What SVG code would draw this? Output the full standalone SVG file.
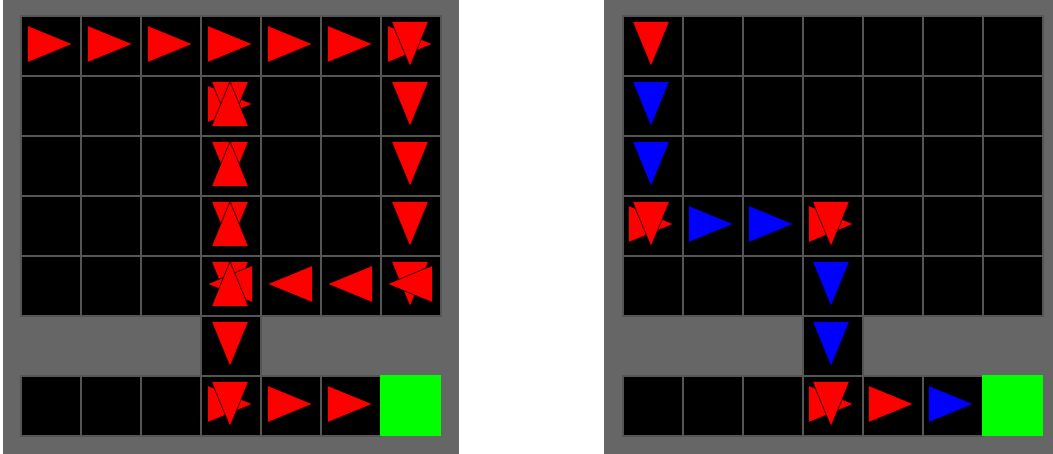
<svg xmlns="http://www.w3.org/2000/svg" xmlns:xlink="http://www.w3.org/1999/xlink" width="1053" height="454" viewBox="0 0 1053 454">
<style>
.panel{fill:#666666}
.cell{fill:#000000;stroke:#555555;stroke-width:2}
.goal{fill:#00ff00}
.red{fill:#ff0000;stroke:#000000;stroke-width:0.8}
.blue{fill:#0000ff;stroke:#000000;stroke-width:0.8}
</style>
<defs>
<polygon id="tri" points="-22.5,-18.5 22.5,0 -22.5,18.5"/>
</defs>
<rect x="0" y="0" width="1053" height="454" fill="#ffffff"/>
<g id="left-panel">
<rect class="panel" x="3" y="0" width="456" height="454"/>
<g id="left-cells">
<rect class="cell" x="21" y="16" width="60" height="60"/><rect class="cell" x="81" y="16" width="60" height="60"/><rect class="cell" x="141" y="16" width="60" height="60"/><rect class="cell" x="201" y="16" width="60" height="60"/><rect class="cell" x="261" y="16" width="60" height="60"/><rect class="cell" x="321" y="16" width="60" height="60"/><rect class="cell" x="381" y="16" width="60" height="60"/>
<rect class="cell" x="21" y="76" width="60" height="60"/><rect class="cell" x="81" y="76" width="60" height="60"/><rect class="cell" x="141" y="76" width="60" height="60"/><rect class="cell" x="201" y="76" width="60" height="60"/><rect class="cell" x="261" y="76" width="60" height="60"/><rect class="cell" x="321" y="76" width="60" height="60"/><rect class="cell" x="381" y="76" width="60" height="60"/>
<rect class="cell" x="21" y="136" width="60" height="60"/><rect class="cell" x="81" y="136" width="60" height="60"/><rect class="cell" x="141" y="136" width="60" height="60"/><rect class="cell" x="201" y="136" width="60" height="60"/><rect class="cell" x="261" y="136" width="60" height="60"/><rect class="cell" x="321" y="136" width="60" height="60"/><rect class="cell" x="381" y="136" width="60" height="60"/>
<rect class="cell" x="21" y="196" width="60" height="60"/><rect class="cell" x="81" y="196" width="60" height="60"/><rect class="cell" x="141" y="196" width="60" height="60"/><rect class="cell" x="201" y="196" width="60" height="60"/><rect class="cell" x="261" y="196" width="60" height="60"/><rect class="cell" x="321" y="196" width="60" height="60"/><rect class="cell" x="381" y="196" width="60" height="60"/>
<rect class="cell" x="21" y="256" width="60" height="60"/><rect class="cell" x="81" y="256" width="60" height="60"/><rect class="cell" x="141" y="256" width="60" height="60"/><rect class="cell" x="201" y="256" width="60" height="60"/><rect class="cell" x="261" y="256" width="60" height="60"/><rect class="cell" x="321" y="256" width="60" height="60"/><rect class="cell" x="381" y="256" width="60" height="60"/>
<rect class="cell" x="201" y="316" width="60" height="60"/>
<rect class="cell" x="21" y="376" width="60" height="60"/><rect class="cell" x="81" y="376" width="60" height="60"/><rect class="cell" x="141" y="376" width="60" height="60"/><rect class="cell" x="201" y="376" width="60" height="60"/><rect class="cell" x="261" y="376" width="60" height="60"/><rect class="cell" x="321" y="376" width="60" height="60"/>
<rect class="goal" x="380" y="375" width="61" height="61"/>
</g>
<g id="left-arrows">
<use xlink:href="#tri" class="red" transform="translate(50,44)"/>
<use xlink:href="#tri" class="red" transform="translate(110,44)"/>
<use xlink:href="#tri" class="red" transform="translate(170,44)"/>
<use xlink:href="#tri" class="red" transform="translate(230,44)"/>
<use xlink:href="#tri" class="red" transform="translate(290,44)"/>
<use xlink:href="#tri" class="red" transform="translate(350,44)"/>
<use xlink:href="#tri" class="red" transform="translate(410,44)"/>
<use xlink:href="#tri" class="red" transform="translate(410,44) rotate(90)"/>
<use xlink:href="#tri" class="red" transform="translate(410,104) rotate(90)"/>
<use xlink:href="#tri" class="red" transform="translate(410,164) rotate(90)"/>
<use xlink:href="#tri" class="red" transform="translate(410,224) rotate(90)"/>
<use xlink:href="#tri" class="red" transform="translate(410,284) rotate(90)"/>
<use xlink:href="#tri" class="red" transform="translate(410,284) rotate(180)"/>
<use xlink:href="#tri" class="red" transform="translate(350,284) rotate(180)"/>
<use xlink:href="#tri" class="red" transform="translate(290,284) rotate(180)"/>
<use xlink:href="#tri" class="red" transform="translate(230,284) rotate(90)"/>
<use xlink:href="#tri" class="red" transform="translate(230,284) rotate(180)"/>
<use xlink:href="#tri" class="red" transform="translate(230,284) rotate(-90)"/>
<use xlink:href="#tri" class="red" transform="translate(230,224) rotate(90)"/>
<use xlink:href="#tri" class="red" transform="translate(230,224) rotate(-90)"/>
<use xlink:href="#tri" class="red" transform="translate(230,164) rotate(90)"/>
<use xlink:href="#tri" class="red" transform="translate(230,164) rotate(-90)"/>
<use xlink:href="#tri" class="red" transform="translate(230,104)"/>
<use xlink:href="#tri" class="red" transform="translate(230,104) rotate(90)"/>
<use xlink:href="#tri" class="red" transform="translate(230,104) rotate(-90)"/>
<use xlink:href="#tri" class="red" transform="translate(230,344) rotate(90)"/>
<use xlink:href="#tri" class="red" transform="translate(230,404)"/>
<use xlink:href="#tri" class="red" transform="translate(230,404) rotate(90)"/>
<use xlink:href="#tri" class="red" transform="translate(290,404)"/>
<use xlink:href="#tri" class="red" transform="translate(350,404)"/>
</g>
</g>
<g id="right-panel">
<rect class="panel" x="604" y="0" width="449" height="454"/>
<g id="right-cells">
<rect class="cell" x="623" y="16" width="60" height="60"/><rect class="cell" x="683" y="16" width="60" height="60"/><rect class="cell" x="743" y="16" width="60" height="60"/><rect class="cell" x="803" y="16" width="60" height="60"/><rect class="cell" x="863" y="16" width="60" height="60"/><rect class="cell" x="923" y="16" width="60" height="60"/><rect class="cell" x="983" y="16" width="60" height="60"/>
<rect class="cell" x="623" y="76" width="60" height="60"/><rect class="cell" x="683" y="76" width="60" height="60"/><rect class="cell" x="743" y="76" width="60" height="60"/><rect class="cell" x="803" y="76" width="60" height="60"/><rect class="cell" x="863" y="76" width="60" height="60"/><rect class="cell" x="923" y="76" width="60" height="60"/><rect class="cell" x="983" y="76" width="60" height="60"/>
<rect class="cell" x="623" y="136" width="60" height="60"/><rect class="cell" x="683" y="136" width="60" height="60"/><rect class="cell" x="743" y="136" width="60" height="60"/><rect class="cell" x="803" y="136" width="60" height="60"/><rect class="cell" x="863" y="136" width="60" height="60"/><rect class="cell" x="923" y="136" width="60" height="60"/><rect class="cell" x="983" y="136" width="60" height="60"/>
<rect class="cell" x="623" y="196" width="60" height="60"/><rect class="cell" x="683" y="196" width="60" height="60"/><rect class="cell" x="743" y="196" width="60" height="60"/><rect class="cell" x="803" y="196" width="60" height="60"/><rect class="cell" x="863" y="196" width="60" height="60"/><rect class="cell" x="923" y="196" width="60" height="60"/><rect class="cell" x="983" y="196" width="60" height="60"/>
<rect class="cell" x="623" y="256" width="60" height="60"/><rect class="cell" x="683" y="256" width="60" height="60"/><rect class="cell" x="743" y="256" width="60" height="60"/><rect class="cell" x="803" y="256" width="60" height="60"/><rect class="cell" x="863" y="256" width="60" height="60"/><rect class="cell" x="923" y="256" width="60" height="60"/><rect class="cell" x="983" y="256" width="60" height="60"/>
<rect class="cell" x="803" y="316" width="60" height="60"/>
<rect class="cell" x="623" y="376" width="60" height="60"/><rect class="cell" x="683" y="376" width="60" height="60"/><rect class="cell" x="743" y="376" width="60" height="60"/><rect class="cell" x="803" y="376" width="60" height="60"/><rect class="cell" x="863" y="376" width="60" height="60"/><rect class="cell" x="923" y="376" width="60" height="60"/>
<rect class="goal" x="982" y="375" width="61" height="61"/>
</g>
<g id="right-arrows">
<use xlink:href="#tri" class="red" transform="translate(651,44) rotate(90)"/>
<use xlink:href="#tri" class="blue" transform="translate(651,104) rotate(90)"/>
<use xlink:href="#tri" class="blue" transform="translate(651,164) rotate(90)"/>
<use xlink:href="#tri" class="red" transform="translate(651,224)"/>
<use xlink:href="#tri" class="red" transform="translate(651,224) rotate(90)"/>
<use xlink:href="#tri" class="blue" transform="translate(711,224)"/>
<use xlink:href="#tri" class="blue" transform="translate(771,224)"/>
<use xlink:href="#tri" class="red" transform="translate(831,224)"/>
<use xlink:href="#tri" class="red" transform="translate(831,224) rotate(90)"/>
<use xlink:href="#tri" class="blue" transform="translate(831,284) rotate(90)"/>
<use xlink:href="#tri" class="blue" transform="translate(831,344) rotate(90)"/>
<use xlink:href="#tri" class="red" transform="translate(831,404)"/>
<use xlink:href="#tri" class="red" transform="translate(831,404) rotate(90)"/>
<use xlink:href="#tri" class="red" transform="translate(891,404)"/>
<use xlink:href="#tri" class="blue" transform="translate(951,404)"/>
</g>
</g>
</svg>
